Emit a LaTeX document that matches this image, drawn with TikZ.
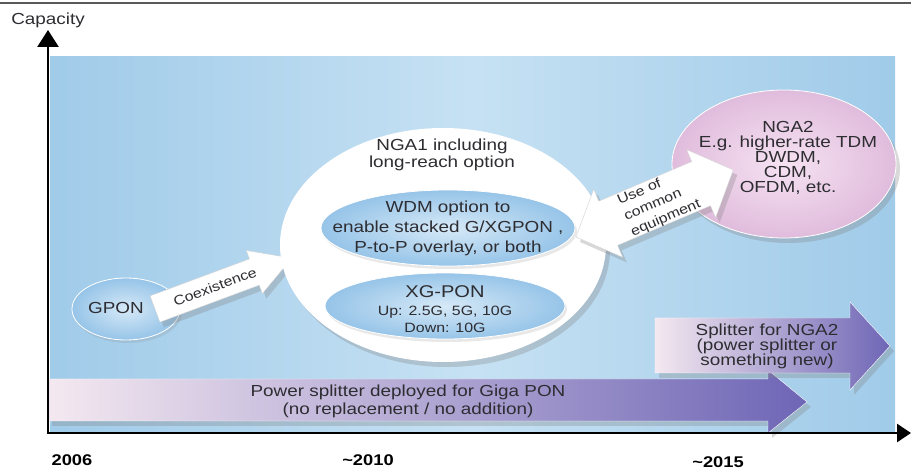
\documentclass[tikz,border=0pt]{standalone}
\usepackage{fontspec}
\setmainfont{Liberation Sans}[FakeStretch=1.18]
\usetikzlibrary{arrows.meta,shapes.geometric,shadows}
\definecolor{ink}{RGB}{45,45,50}
\definecolor{bgblue}{RGB}{160,203,233}
\definecolor{bglight}{RGB}{198,225,243}
\definecolor{pale}{RGB}{244,232,240}
\definecolor{purp}{RGB}{110,102,182}
\definecolor{ovlight}{RGB}{214,233,247}
\definecolor{ovblue}{RGB}{150,196,232}
\definecolor{pinklight}{RGB}{246,226,242}
\definecolor{pinkdark}{RGB}{224,188,220}
\tikzset{
  oval/.style={ellipse,inner sep=0pt},
  blueoval/.style={oval,shading=radial,inner color=ovlight,outer color=ovblue,draw=white,thick},
  pinkoval/.style={oval,shading=radial,inner color=pinklight,outer color=pinkdark,draw=white,thick},
  whiteoval/.style={oval,fill=white},
  % soft shadows towards the lower right
  shad/.style={drop shadow={opacity=0.3,shadow xshift=4pt,shadow yshift=-5pt}},
  softshad/.style={drop shadow={opacity=0.18,shadow xshift=2pt,shadow yshift=-3pt}},
  lbl/.style={font=\fontsize{16}{17}\selectfont,text=ink,align=center},
  smalllbl/.style={font=\fontsize{13.5}{15}\selectfont,text=ink,align=center},
  yearlbl/.style={font=\bfseries\fontsize{15.5}{16}\selectfont,text=black},
  block/.style={fill=white,draw=gray!35,thin},
  bar/.style={left color=pale,right color=purp,draw=white,thin},
  axisline/.style={line width=2.6pt,{Triangle[length=17pt,width=21pt]}-{Triangle[length=14pt,width=18pt]}}
}
\begin{document}
\begin{tikzpicture}[x=1pt,y=-1pt]
 \useasboundingbox (0,0) rectangle (911,470);
 % top rule and background
 \draw[gray!70!black,line width=1.5pt] (0,3) -- (911,3);
 \shade[left color=bgblue,right color=bgblue,middle color=bglight] (50,57) rectangle (895,433);
 % splitter bars
 \shade[bar,shad] (48,379) -- (768,379) -- (768,370) -- (807,402) -- (768,433) -- (768,421) -- (48,421) -- cycle;
 \shade[bar,shad] (655,318) -- (850,318) -- (850,302) -- (890,346) -- (850,390) -- (850,373) -- (655,373) -- cycle;
 \node[lbl,font=\fontsize{16}{18}\selectfont] (giga) at (408,401) {Power splitter deployed for Giga PON\\(no replacement / no addition)};
 \node[lbl,font=\fontsize{16}{15}\selectfont] (splitnga2) at (767,346) {Splitter for NGA2\\(power splitter or\\something new)};
 % GPON
 \node[blueoval,softshad,minimum width=108pt,minimum height=62pt] (gpon) at (126,309) {};
 \node[lbl] (gponlbl) at (116,308) {GPON};
 \begin{scope}[shift={(155,309)},rotate=20.4]
  \draw[block,shad] (0,-14) -- (106,-14) -- (106,-23) -- (146,0) -- (106,23) -- (106,14) -- (0,14) -- cycle;
  \node[smalllbl,rotate=20.4] (coex) at (64,0) {Coexistence};
 \end{scope}
 % NGA2
 \node[pinkoval,shad,minimum width=224pt,minimum height=148pt] (nga2) at (784,164) {};
 \node[lbl,font=\fontsize{16}{15}\selectfont] (nga2lbl) at (788,158) {NGA2\\E.g. higher-rate TDM\\DWDM,\\CDM,\\OFDM, etc.};
 % NGA1 with its two options
 \node[whiteoval,shad,minimum width=326pt,minimum height=234pt] (nga1) at (443,245) {};
 \node[lbl] (nga1lbl) at (442,155) {NGA1 including\\long-reach option};
 \node[blueoval,softshad,minimum width=254pt,minimum height=76pt] (wdm) at (448,228) {};
 \node[lbl,font=\fontsize{16}{20}\selectfont] (wdmlbl) at (448,228) {WDM option to\\enable stacked G/XGPON ,\\P-to-P overlay, or both};
 \node[blueoval,softshad,minimum width=240pt,minimum height=66pt] (xgpon) at (445,306) {};
 \node[lbl,font=\fontsize{17}{18}\selectfont] (xgtitle) at (445,292) {XG-PON};
 \node[smalllbl,font=\fontsize{13.5}{17}\selectfont] (xgrates) at (445,319) {Up: 2.5G, 5G, 10G\\Down: 10G};
 % NGA1 <-> NGA2
 \begin{scope}[shift={(576,237)},rotate=23.1]
  \draw[block,shad] (0,0) -- (35,-37) -- (35,-24) -- (136,-24) -- (136,-37) -- (171,0) -- (136,37) -- (136,24) -- (35,24) -- (35,37) -- cycle;
  \node[smalllbl,font=\fontsize{13.5}{17}\selectfont,align=left,rotate=23.1] (common) at (90,1) {Use of\\common\\equipment};
 \end{scope}
 % axes
 \coordinate (ytop) at (48,30);
 \coordinate (origin) at (48,433);
 \coordinate (xend) at (911,433);
 \draw[axisline] (ytop) -- (origin) -- (xend);
 \node[lbl] (cap) at (48,20) {Capacity};
 \node[yearlbl] (y2006) at (72,460) {2006};
 \node[yearlbl] (y2010) at (368,460) {\textasciitilde2010};
 \node[yearlbl] (y2015) at (718,462) {\textasciitilde2015};
\end{tikzpicture}
\end{document}
